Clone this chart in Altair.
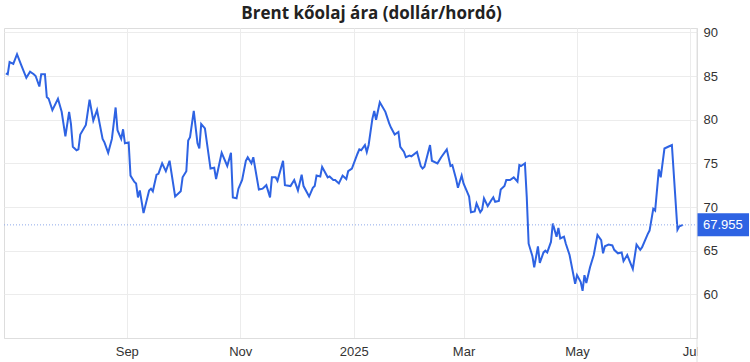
import altair as alt
import pandas as pd

dates = [
    "2024-06-28", "2024-06-29", "2024-06-30", "2024-07-02", "2024-07-04", "2024-07-06", "2024-07-09",
    "2024-07-11", "2024-07-13", "2024-07-14", "2024-07-16", "2024-07-17", "2024-07-19", "2024-07-20",
    "2024-07-21", "2024-07-23", "2024-07-26", "2024-07-28", "2024-07-30", "2024-08-01", "2024-08-02",
    "2024-08-03", "2024-08-05", "2024-08-06", "2024-08-07", "2024-08-10", "2024-08-12", "2024-08-14",
    "2024-08-16", "2024-08-19", "2024-08-20", "2024-08-22", "2024-08-24", "2024-08-26", "2024-08-27",
    "2024-08-29", "2024-08-30", "2024-08-31", "2024-09-02", "2024-09-03", "2024-09-05", "2024-09-06",
    "2024-09-07", "2024-09-08", "2024-09-10", "2024-09-13", "2024-09-14", "2024-09-15", "2024-09-17",
    "2024-09-18", "2024-09-20", "2024-09-22", "2024-09-24", "2024-09-27", "2024-09-30", "2024-10-01",
    "2024-10-03", "2024-10-04", "2024-10-05", "2024-10-07", "2024-10-09", "2024-10-10", "2024-10-11",
    "2024-10-13", "2024-10-16", "2024-10-18", "2024-10-19", "2024-10-22", "2024-10-25", "2024-10-27",
    "2024-10-28", "2024-10-30", "2024-10-31", "2024-11-02", "2024-11-04", "2024-11-05", "2024-11-07",
    "2024-11-08", "2024-11-11", "2024-11-13", "2024-11-15", "2024-11-17", "2024-11-18", "2024-11-20",
    "2024-11-21", "2024-11-24", "2024-11-25", "2024-11-28", "2024-11-30", "2024-12-02", "2024-12-04",
    "2024-12-05", "2024-12-08", "2024-12-10", "2024-12-11", "2024-12-12", "2024-12-14", "2024-12-15",
    "2024-12-18", "2024-12-19", "2024-12-21", "2024-12-22", "2024-12-24", "2024-12-26", "2024-12-28",
    "2024-12-29", "2024-12-31", "2025-01-03", "2025-01-04", "2025-01-05", "2025-01-07", "2025-01-08",
    "2025-01-09", "2025-01-11", "2025-01-12", "2025-01-13", "2025-01-15", "2025-01-18", "2025-01-20",
    "2025-01-21", "2025-01-23", "2025-01-25", "2025-01-26", "2025-01-28", "2025-01-29", "2025-01-31",
    "2025-02-01", "2025-02-04", "2025-02-06", "2025-02-07", "2025-02-08", "2025-02-11", "2025-02-12",
    "2025-02-15", "2025-02-17", "2025-02-20", "2025-02-22", "2025-02-23", "2025-02-25", "2025-02-26",
    "2025-02-28", "2025-03-01", "2025-03-03", "2025-03-04", "2025-03-05", "2025-03-07", "2025-03-08",
    "2025-03-10", "2025-03-11", "2025-03-12", "2025-03-14", "2025-03-16", "2025-03-17", "2025-03-18",
    "2025-03-20", "2025-03-21", "2025-03-23", "2025-03-24", "2025-03-26", "2025-03-28", "2025-03-30",
    "2025-03-31", "2025-04-01", "2025-04-03", "2025-04-04", "2025-04-05", "2025-04-07", "2025-04-08",
    "2025-04-10", "2025-04-11", "2025-04-13", "2025-04-14", "2025-04-15", "2025-04-17", "2025-04-18",
    "2025-04-20", "2025-04-21", "2025-04-22", "2025-04-24", "2025-04-25", "2025-04-27", "2025-04-30",
    "2025-05-01", "2025-05-03", "2025-05-04", "2025-05-05", "2025-05-06", "2025-05-08", "2025-05-10",
    "2025-05-12", "2025-05-14", "2025-05-15", "2025-05-16", "2025-05-18", "2025-05-20", "2025-05-21",
    "2025-05-23", "2025-05-25", "2025-05-26", "2025-05-28", "2025-05-31", "2025-06-02", "2025-06-04",
    "2025-06-05", "2025-06-08", "2025-06-09", "2025-06-11", "2025-06-12", "2025-06-14", "2025-06-15",
    "2025-06-17", "2025-06-19", "2025-06-21", "2025-06-24", "2025-06-25", "2025-06-27",
]

price = [
    85.3, 85.2, 86.6, 86.4, 87.5, 86.4, 84.8,
    85.5, 85.2, 85.0, 83.8, 85.2, 85.2, 82.6,
    82.4, 81.1, 82.4, 80.9, 78.1, 80.9, 79.5,
    76.9, 76.5, 76.6, 78.3, 79.4, 82.3, 79.9,
    81.1, 77.8, 77.4, 76.2, 77.8, 81.4, 78.8,
    77.8, 78.9, 77.3, 77.4, 73.6, 72.9, 72.7,
    71.1, 71.9, 69.3, 71.9, 72.1, 71.8, 73.7,
    73.8, 75.0, 74.1, 75.3, 71.2, 71.8, 73.4,
    74.1, 77.6, 78.0, 81.0, 77.3, 76.7, 79.5,
    79.0, 74.4, 74.5, 73.2, 76.2, 74.7, 76.2,
    71.1, 71.0, 72.1, 73.1, 75.3, 75.7, 75.0,
    75.7, 72.0, 72.1, 72.5, 71.1, 73.4, 73.4,
    73.0, 75.3, 72.5, 72.4, 73.1, 71.9, 73.7,
    72.4, 71.2, 72.2, 72.4, 73.6, 73.5, 74.6,
    73.4, 73.5, 73.1, 73.1, 72.7, 73.6, 73.2,
    74.1, 74.4, 76.1, 76.6, 76.5, 77.1, 76.3,
    77.1, 80.1, 81.0, 80.0, 82.0, 80.9, 79.6,
    79.1, 78.3, 78.6, 76.9, 76.3, 75.7, 75.9,
    75.8, 76.3, 74.7, 74.4, 74.6, 77.1, 75.3,
    75.0, 75.7, 76.6, 74.7, 74.8, 73.2, 72.2,
    73.6, 72.7, 71.7, 71.2, 69.4, 69.5, 70.4,
    69.4, 69.7, 71.0, 70.1, 70.8, 71.1, 70.6,
    70.7, 72.0, 72.4, 73.1, 73.1, 73.4, 72.9,
    74.8, 74.7, 75.0, 71.1, 65.8, 64.4, 63.1,
    65.5, 63.6, 64.8, 65.0, 64.8, 66.0, 68.1,
    66.6, 67.6, 66.4, 66.6, 65.8, 64.5, 61.2,
    62.2, 61.4, 60.4, 62.2, 61.3, 63.1, 64.5,
    66.8, 66.2, 64.7, 65.5, 65.7, 65.6, 65.1,
    64.7, 64.8, 63.8, 64.5, 62.9, 65.7, 65.1,
    65.4, 66.9, 67.3, 69.8, 69.6, 74.3, 73.4,
    76.7, 76.9, 77.1, 67.4, 67.8, 67.955,
]

last_price = [67.955]
y_ticks = [60, 65, 70, 75, 80, 85, 90]
x_tick_dates = [(2024, 9), (2024, 11), (2025, 1), (2025, 3), (2025, 5), (2025, 7)]
title_text = "Brent kőolaj ára (dollár/hordó)"

W, H = 693, 310
BLUE = "#2e63e3"
GRID = "#ececec"
LABEL_FONT = "Liberation Sans"

df = pd.DataFrame({"date": dates, "price": price})
last_df = pd.DataFrame({"price": last_price})

x_scale = alt.Scale(
    type="utc",
    domain=[
        alt.DateTime(year=2024, month=6, date=27, utc=True),
        alt.DateTime(year=2025, month=7, date=4, hours=12, utc=True),
    ],
)
y_scale = alt.Scale(domain=[55, 90.5], nice=False, zero=False)

x_axis = alt.Axis(
    values=[alt.DateTime(year=y, month=m, date=1, utc=True) for y, m in x_tick_dates],
    labelExpr="utcFormat(datum.value, '%m') == '01' ? utcFormat(datum.value, '%Y') : utcFormat(datum.value, '%b')",
    grid=True,
    gridColor=GRID,
    ticks=False,
    tickSize=0,
    domain=True,
    domainColor="#dedede",
    labelFont=LABEL_FONT,
    labelFontSize=13,
    labelColor="#333333",
    labelPadding=7,
    labelFlush=False,
    labelOverlap=False,
    title=None,
)
y_axis = alt.Axis(
    orient="right",
    values=y_ticks,
    grid=True,
    gridColor=GRID,
    ticks=False,
    tickSize=0,
    domain=False,
    labelFont=LABEL_FONT,
    labelFontSize=13,
    labelColor="#333333",
    labelPadding=6,
    labelAlign="left",
    labelBaseline="middle",
    title=None,
)

y_enc = alt.Y("price:Q", scale=y_scale, axis=y_axis)

line = alt.Chart(df).mark_line(color=BLUE, strokeWidth=2).encode(
    x=alt.X("date:T", scale=x_scale, axis=x_axis),
    y=y_enc,
)

dotted = alt.Chart(last_df).mark_rule(color="#8fa9ea", strokeWidth=1, strokeDash=[1, 2]).encode(
    y=y_enc,
    x=alt.value(0),
    x2=alt.value(W),
)

cover = alt.Chart(last_df).mark_rect(color="white").encode(
    x=alt.value(W + 0.5), x2=alt.value(W + 60), y=alt.value(H + 2), y2=alt.value(H + 30)
)

separator = alt.Chart(last_df).mark_rule(color="#e0e0e0", strokeWidth=1).encode(
    x=alt.value(W), y=alt.value(0), y2=alt.value(H + 30)
)

box = alt.Chart(last_df).mark_rule(color=BLUE, strokeWidth=23, strokeCap="butt").encode(
    y=y_enc,
    x=alt.value(W + 0.5),
    x2=alt.value(W + 52),
)

box_text = alt.Chart(last_df).mark_text(
    color="white", align="left", baseline="middle", font=LABEL_FONT, fontSize=13
).encode(
    y=y_enc,
    x=alt.value(W + 6),
    text=alt.Text("price:Q", format=".3f"),
)

chart = (
    alt.layer(line, dotted, cover, separator, box, box_text)
    .properties(
        width=W,
        height=H,
        title=alt.TitleParams(
            title_text,
            font="Open Sans",
            fontSize=17,
            fontWeight="bold",
            color="#222222",
            anchor="middle",
            dx=21,
            offset=3,
        ),
        autosize=alt.AutoSizeParams(type="none"),
        padding={"left": 4, "top": 28, "right": 53, "bottom": 24},
    )
    .configure_view(stroke=None)
    .configure(background="white")
)

chart.save("out.html", embed_options={"renderer": "svg", "actions": False})
